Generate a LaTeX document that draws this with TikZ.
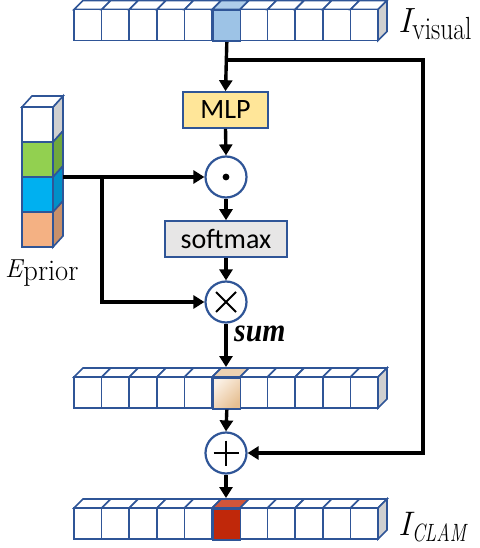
\documentclass[tikz,border=0pt]{standalone}
\usepackage{fontspec}
\setsansfont{Carlito}
\newfontfamily\timesf{Liberation Serif}
\usepackage{amsmath,graphicx}
\usetikzlibrary{arrows.meta,calc,shadings}
\definecolor{edgeblue}{HTML}{2F5597}
\definecolor{sidegrey}{HTML}{D0D0D0}
\definecolor{mlpfill}{HTML}{FFE699}
\definecolor{smfill}{HTML}{E7E6E6}
\definecolor{lblue}{HTML}{9DC3E6}
\definecolor{lblueT}{HTML}{AFCDEA}
\definecolor{beigeL}{HTML}{FBF0E4}
\definecolor{beigeD}{HTML}{E6BF92}
\definecolor{beigeT}{HTML}{EDD2B2}
\definecolor{redC}{HTML}{C0280A}
\definecolor{redT}{HTML}{D0553A}
\definecolor{egreen}{HTML}{92D050}
\definecolor{egreenS}{HTML}{70A83C}
\definecolor{eblue}{HTML}{00B0F0}
\definecolor{eblueS}{HTML}{0090C8}
\definecolor{eorange}{HTML}{F4B183}
\definecolor{eorangeS}{HTML}{C8906A}
\tikzset{
  cellline/.style={draw=edgeblue,line width=1.6},
  arr/.style={line width=3.4,-{Triangle[length=11pt,width=13pt]}},
  opcircle/.style={circle,draw=edgeblue,line width=2.2,fill=white,minimum size=41,inner sep=0},
  opbox/.style={draw=edgeblue,line width=1.6,inner sep=0,font=\sffamily\fontsize{28}{30}\selectfont},
  lbl/.style={anchor=base west,inner sep=0}
}
\newcommand\mybar[4]{%
  \foreach \i in {0,...,10}{
    \pgfmathsetmacro\xa{74+\i*27.64}
    \pgfmathsetmacro\xb{\xa+27.64}
    \filldraw[fill=white,cellline] (\xa,#1) -- (\xa+9,#1-9) -- (\xb+9,#1-9) -- (\xb,#1) -- cycle;
    \filldraw[fill=white,cellline] (\xa,#1) rectangle (\xb,#1+31);
  }
  \filldraw[fill=sidegrey,cellline] (378.04,#1) -- (387.04,#1-9) -- (387.04,#1+22) -- (378.04,#1+31) -- cycle;
  \filldraw[fill=#3,cellline] (212.2,#1) -- (221.2,#1-9) -- (248.84,#1-9) -- (239.84,#1) -- cycle;
  \node[cellline,#2,minimum width=27.64,minimum height=31,inner sep=0,anchor=north west] (#4) at (212.2,#1) {};
}
\begin{document}
\begin{tikzpicture}[x=1pt,y=-1pt]
\useasboundingbox (0,0) rectangle (479,548);
% bars
\mybar{9.5}{fill=lblue}{lblueT}{vcell}
\mybar{377}{left color=beigeL,right color=beigeD,shading angle=45}{beigeT}{scell}
\mybar{508}{fill=redC}{redT}{ccell}
% E_prior stack
\foreach \c/\s [count=\k from 0] in {white/sidegrey,egreen/egreenS,eblue/eblueS,eorange/eorangeS}{
  \pgfmathsetmacro\ya{107+\k*35}
  \filldraw[fill=\c,cellline] (22,\ya) rectangle (53,\ya+35);
  \filldraw[fill=\s,cellline] (53,\ya) -- (63,\ya-11) -- (63,\ya+24) -- (53,\ya+35) -- cycle;
}
\filldraw[fill=white,cellline] (22,107) -- (32,96) -- (63,96) -- (53,107) -- cycle;
% labels
\node[lbl] (lv) at (398,33) {{\fontsize{35}{36}\selectfont\itshape I}\kern1pt\raisebox{-7pt}{\scalebox{0.8}[1]{\fontsize{32}{34}\selectfont visual}}};
\node[lbl] (le) at (5,277) {{\fontsize{26}{28}\selectfont\itshape E}\kern1pt\raisebox{-3pt}{\scalebox{0.95}[1]{\fontsize{30}{32}\selectfont prior}}};
\node[lbl] (lc) at (398,535) {{\fontsize{34}{36}\selectfont\itshape I}\kern1pt\raisebox{-6pt}{\scalebox{0.74}[1]{\fontsize{25}{27}\selectfont\itshape CLAM}}};
% operators
\node[opbox,fill=mlpfill,minimum width=85,minimum height=36] (mlp) at (225.5,110) {MLP};
\node[opcircle] (dot) at (226,177) {};
\fill (dot.center) circle (3.4);
\node[opbox,fill=smfill,minimum width=122,minimum height=36] (sm) at (226,239) {softmax};
\node[opcircle] (ot) at (226,302) {};
\draw[line width=2] ($(ot.center)+(-10,-10)$) -- ($(ot.center)+(10,10)$);
\draw[line width=2] ($(ot.center)+(-10,10)$) -- ($(ot.center)+(10,-10)$);
\node[lbl] (sumlbl) at (234,341) {\scalebox{0.9}[1]{\timesf\fontsize{33}{34}\selectfont\bfseries\itshape sum}};
\node[opcircle] (plus) at (226,453) {};
\draw[line width=2] ($(plus.center)+(-12.5,0)$) -- ($(plus.center)+(12.5,0)$);
\draw[line width=2] ($(plus.center)+(0,-12.5)$) -- ($(plus.center)+(0,12.5)$);
% coordinates
\coordinate (br) at (226,60);
\coordinate (rc) at (423,60);
\coordinate (es) at (63,177);
\coordinate (eb) at (102,177);
\coordinate (s2top) at (226,367);
\coordinate (c3top) at (226,498);
% connectors
\draw[arr] (vcell.south) -- (mlp.north);
\draw[arr] (br) -- (rc) |- (plus.east);
\draw[arr] (mlp.south) -- (dot.north);
\draw[arr] (es) -- (dot.west);
\draw[arr] (eb) |- (ot.west);
\draw[arr] (dot.south) -- (sm.north);
\draw[arr] (sm.south) -- (ot.north);
\draw[arr] (ot.south) -- (s2top);
\draw[arr] (scell.south) -- (plus.north);
\draw[arr] (plus.south) -- (c3top);
\end{tikzpicture}
\end{document}
